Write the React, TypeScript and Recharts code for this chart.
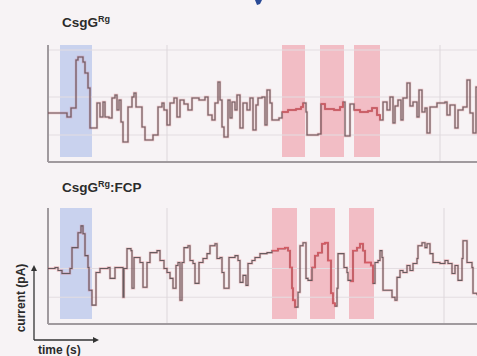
import React from 'react';
import {
  ComposedChart,
  Line,
  XAxis,
  YAxis,
  ReferenceArea,
  ReferenceLine,
} from 'recharts';

// top trace: CsgG(Rg)
const topTime = [
  0, 19, 23, 28, 30, 35, 37, 40, 42, 49, 52, 55, 57, 61, 64, 67, 69, 71, 73, 75,
  80, 84, 86, 88, 94, 97, 105, 110, 114, 116, 119, 122, 126, 129, 132, 136, 140, 144, 151, 157,
  160, 164, 167, 170, 172, 174, 176, 180, 182, 184, 187, 189, 192, 195, 199, 202, 205, 208, 210, 214,
  217, 219, 222, 224, 231, 234, 240, 248, 253, 255, 258, 259, 270, 273, 277, 286, 292, 295, 297, 302,
  306, 312, 320, 324, 329, 332, 335, 339, 342, 345, 347, 350, 353, 355, 359, 362, 365, 369, 371, 374,
  377, 379, 382, 389, 397, 399, 402, 407, 410, 415, 419, 422, 425, 428, 429,
];
const topCurrent = [
  49, 45, 54, 102, 105, 100, 89, 74, 34, 59, 45, 60, 45, 44, 64, 67, 52, 62, 40, 20,
  55, 65, 69, 55, 35, 22, 27, 55, 59, 52, 37, 59, 64, 45, 62, 58, 52, 64, 62, 65,
  47, 42, 59, 80, 62, 35, 25, 62, 44, 60, 52, 67, 34, 59, 52, 64, 32, 57, 64, 65,
  37, 72, 59, 42, 44, 50, 52, 53, 55, 59, 50, 27, 28, 58, 53, 52, 55, 60, 26, 58,
  52, 50, 51, 54, 47, 42, 60, 52, 65, 39, 56, 62, 42, 64, 79, 56, 60, 45, 72, 50,
  54, 29, 55, 59, 60, 47, 57, 34, 52, 55, 82, 49, 29, 75, 75,
];

// bottom trace: CsgG(Rg):FCP
const botTime = [
  0, 7, 10, 14, 22, 24, 30, 33, 35, 37, 40, 41, 44, 48, 52, 60, 62, 67, 75, 76,
  79, 83, 84, 86, 92, 95, 99, 102, 109, 112, 116, 119, 122, 125, 128, 130, 132, 134, 136, 140,
  142, 145, 147, 151, 155, 159, 162, 167, 169, 172, 174, 176, 181, 187, 190, 192, 195, 198, 200, 204,
  207, 212, 219, 224, 230, 237, 240, 242, 244, 245, 247, 250, 252, 255, 258, 260, 264, 267, 270, 274,
  277, 280, 283, 285, 287, 289, 290, 294, 296, 299, 300, 303, 305, 309, 312, 315, 317, 323, 325, 327,
  330, 332, 334, 335, 342, 344, 347, 349, 352, 355, 359, 362, 365, 369, 370, 374, 377, 379, 382, 385,
  392, 397, 400, 404, 407, 410, 414, 415, 419, 424, 425, 429,
];
const botCurrent = [
  56, 57, 54, 51, 56, 77, 92, 99, 91, 69, 57, 34, 19, 52, 56, 57, 46, 57, 27, 56,
  76, 74, 36, 67, 62, 37, 62, 72, 74, 64, 56, 52, 46, 36, 59, 62, 24, 62, 77, 79,
  64, 61, 41, 62, 66, 71, 79, 81, 66, 67, 52, 36, 67, 69, 64, 42, 49, 39, 61, 64,
  67, 71, 72, 74, 76, 77, 74, 57, 36, 24, 17, 32, 79, 82, 46, 44, 57, 69, 72, 81,
  82, 64, 31, 21, 18, 36, 71, 71, 57, 52, 44, 43, 74, 77, 81, 74, 62, 59, 41, 62,
  64, 74, 67, 34, 34, 27, 24, 47, 54, 52, 59, 54, 61, 66, 79, 82, 77, 81, 71, 62,
  61, 64, 61, 51, 59, 44, 66, 84, 62, 57, 31, 29,
];

// highlighted windows [start, end] in time units
const topBlue = [12, 44];
const topRed = [[234, 257], [272, 296], [306, 332]];
const botBlue = [12, 44];
const botRed = [[224, 249], [262, 287], [301, 326]];

const topGridX = [119, 392];
const topGridY = [27, 65, 112];
const botGridX = [119, 396];
const botGridY = [27, 56];

const BG = '#f7f3f5';
const GRAY = '#4f4b4d';
const RED = '#d65a63';
const FONT = 'Liberation Sans, Arial, sans-serif';

function buildData(time: number[], current: number[], red: number[][]) {
  return time.map((t, i) => {
    const inside = red.some(([a, b]) => t >= a && t <= b);
    return { t, v: current[i], r: inside ? current[i] : null };
  });
}

function Trace({
  time,
  current,
  blue,
  red,
  gridX,
  gridY,
  height,
  top,
}: {
  time: number[];
  current: number[];
  blue: number[];
  red: number[][];
  gridX: number[];
  gridY: number[];
  height: number;
  top: number;
}) {
  const data = buildData(time, current, red);
  return (
    <ComposedChart
      width={477}
      height={height}
      data={data}
      margin={{ top, right: 0, bottom: 6, left: 48 }}
    >
      <XAxis dataKey="t" type="number" domain={[0, 429]} hide />
      <YAxis type="number" domain={[0, 117]} hide />
      {gridY.map((y) => (
        <ReferenceLine key={'y' + y} y={y} stroke="#e3dde1" strokeWidth={1} />
      ))}
      {gridX.map((x) => (
        <ReferenceLine key={'x' + x} x={x} stroke="#ddd7db" strokeWidth={1} />
      ))}
      <ReferenceArea x1={blue[0]} x2={blue[1]} y1={5} y2={117} fill="#c9d2ee" fillOpacity={1} stroke="none" />
      {red.map(([a, b]) => (
        <ReferenceArea key={a} x1={a} x2={b} y1={5} y2={117} fill="#f2bdc5" fillOpacity={1} stroke="none" />
      ))}
      <ReferenceLine x={0} stroke="#a09a9e" strokeWidth={2} />
      <ReferenceLine y={0} stroke="#a09a9e" strokeWidth={2} />
      <Line type="stepAfter" dataKey="v" stroke={RED} strokeOpacity={0.35} strokeWidth={2.4} dot={false} isAnimationActive={false} />
      <Line type="stepAfter" dataKey="v" stroke={GRAY} strokeOpacity={0.85} strokeWidth={1.1} dot={false} isAnimationActive={false} />
      <Line type="stepAfter" dataKey="r" stroke={RED} strokeWidth={1.4} dot={false} connectNulls={false} isAnimationActive={false} />
    </ComposedChart>
  );
}

export default function App() {
  return (
    <div
      style={{
        position: 'absolute',
        left: 0,
        top: 0,
        width: 477,
        height: 356,
        background: BG,
        overflow: 'hidden',
        fontFamily: FONT,
      }}
    >
      <div style={{ position: 'absolute', left: 0, top: 0 }}>
        <Trace time={topTime} current={topCurrent} blue={topBlue} red={topRed} gridX={topGridX} gridY={topGridY} height={168} top={45} />
      </div>
      <div style={{ position: 'absolute', left: 0, top: 200 }}>
        <Trace time={botTime} current={botCurrent} blue={botBlue} red={botRed} gridX={botGridX} gridY={botGridY} height={130} top={8} />
      </div>
      <svg width={477} height={356} style={{ position: 'absolute', left: 0, top: 0 }}>
        <path d="M255 0 L262 0 L260 4 L257 5 Z" fill="#2a4a96" />
        <text x={62} y={27} fontSize={13.5} fontWeight="bold" fill="#2b2b2b" fontFamily={FONT}>
          CsgG<tspan dy={-5} fontSize={9}>Rg</tspan>
        </text>
        <text x={62} y={192} fontSize={13.5} fontWeight="bold" fill="#2b2b2b" fontFamily={FONT}>
          CsgG<tspan dy={-5} fontSize={9}>Rg</tspan>
          <tspan dy={5} fontSize={13.5}>:FCP</tspan>
        </text>
        <line x1={34} y1={340} x2={34} y2={270} stroke="#333" strokeWidth={1.3} />
        <path d="M34 265 L31 271 L37 271 Z" fill="#333" />
        <line x1={34} y1={340} x2={94} y2={340} stroke="#333" strokeWidth={1.3} />
        <path d="M99 340 L93 337 L93 343 Z" fill="#333" />
        <text
          x={25}
          y={298}
          fontSize={12}
          fontWeight="bold"
          fill="#2b2b2b"
          textAnchor="middle"
          transform="rotate(-90 25 298)"
          fontFamily={FONT}
        >
          current (pA)
        </text>
        <text x={38} y={354} fontSize={12} fontWeight="bold" fill="#2b2b2b" fontFamily={FONT}>
          time (s)
        </text>
      </svg>
    </div>
  );
}
